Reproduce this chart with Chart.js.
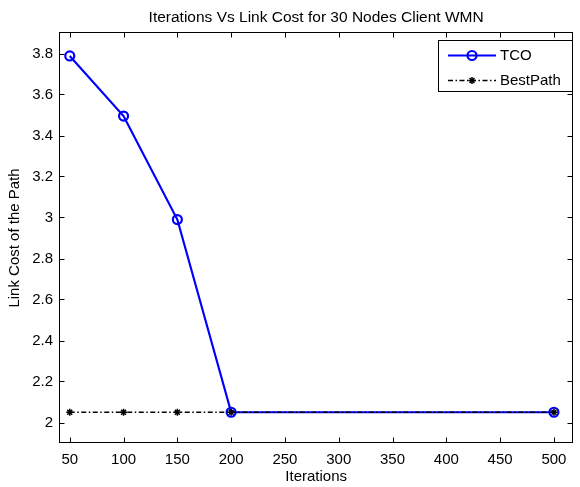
<!DOCTYPE html>
<html><head><meta charset="utf-8">
<script src="https://cdn.jsdelivr.net/npm/chart.js@4.4.1/dist/chart.umd.min.js"></script>
<style>html,body{margin:0;padding:0;background:#fff;}#wrap{width:580px;height:487px;}</style>
</head><body><div id="wrap"><canvas id="c" width="580" height="487"></canvas></div>
<script>
const titleText = 'Iterations Vs Link Cost for 30 Nodes Client WMN';
const xLabel = 'Iterations';
const yLabel = 'Link Cost of the Path';
const seriesNames = ['TCO', 'BestPath'];
const iterations = [50, 100, 150, 200, 500];
const tcoCost = [3.788, 3.495, 2.99, 2.05, 2.05];
const bestPathCost = [2.05, 2.05, 2.05, 2.05, 2.05];
const xTicks = [50, 100, 150, 200, 250, 300, 350, 400, 450, 500];
const yTicks = [2, 2.2, 2.4, 2.6, 2.8, 3, 3.2, 3.4, 3.6, 3.8];

const FONT = 'Arial, "Liberation Sans", Helvetica, sans-serif';
const toPts = (ys) => iterations.map((x, i) => ({x: x, y: ys[i]}));

const framePlugin = {
  id: 'frame',
  beforeDatasetsDraw(chart) {
    const ctx = chart.ctx, a = chart.chartArea;
    const xs = chart.scales.x, ys = chart.scales.y;
    const L = Math.round(a.left) + 0.5, R = Math.round(a.right) - 0.5;
    const T = Math.round(a.top) - 0.5, B = Math.round(a.bottom) - 0.5;
    ctx.save();
    ctx.strokeStyle = '#000'; ctx.lineWidth = 1;
    ctx.strokeRect(L, T, R - L, B - T);
    ctx.beginPath();
    const tl = 5;
    xTicks.forEach(v => {
      const px = Math.round(xs.getPixelForValue(v)) + 0.5;
      ctx.moveTo(px, B); ctx.lineTo(px, B - tl);
      ctx.moveTo(px, T); ctx.lineTo(px, T + tl);
    });
    yTicks.forEach(v => {
      const py = Math.round(ys.getPixelForValue(v)) + 0.5;
      ctx.moveTo(L, py); ctx.lineTo(L + tl, py);
      ctx.moveTo(R, py); ctx.lineTo(R - tl, py);
    });
    ctx.stroke();
    ctx.restore();
  },
  afterDraw(chart) {
    const ctx = chart.ctx, a = chart.chartArea;
    ctx.save();
    ctx.fillStyle = '#000';
    ctx.font = '15.5px ' + FONT;
    ctx.textAlign = 'center'; ctx.textBaseline = 'alphabetic';
    ctx.fillText(titleText, (a.left + a.right) / 2, 21.5);
    const bx = 438.5, by = 40.5, bw = 134, bh = 51;
    ctx.fillStyle = '#fff';
    ctx.fillRect(bx, by, bw, bh);
    ctx.strokeStyle = '#000'; ctx.lineWidth = 1;
    ctx.strokeRect(bx, by, bw, bh);
    const ds = chart.data.datasets;
    const rows = [55.5, 80.5];
    ds.forEach((d) => {
      const y = rows[d.legendRow];
      ctx.save();
      ctx.strokeStyle = d.borderColor; ctx.lineWidth = d.borderWidth;
      ctx.setLineDash(d.borderDash || []);
      ctx.beginPath(); ctx.moveTo(448, y); ctx.lineTo(496, y); ctx.stroke();
      ctx.setLineDash([]);
      ctx.lineWidth = d.pointBorderWidth;
      ctx.strokeStyle = d.pointBorderColor;
      const cx = 472, r = d.pointRadius;
      ctx.beginPath();
      if (d.pointStyle === 'circle') {
        ctx.arc(cx, y, r, 0, Math.PI * 2);
      } else {
        ctx.moveTo(cx - r, y); ctx.lineTo(cx + r, y);
        ctx.moveTo(cx, y - r); ctx.lineTo(cx, y + r);
        const q = r * Math.SQRT1_2;
        ctx.moveTo(cx - q, y - q); ctx.lineTo(cx + q, y + q);
        ctx.moveTo(cx - q, y + q); ctx.lineTo(cx + q, y - q);
      }
      ctx.stroke();
      ctx.fillStyle = '#000';
      ctx.font = '15px ' + FONT;
      ctx.textAlign = 'left'; ctx.textBaseline = 'middle';
      ctx.fillText(d.label, 500, y);
      ctx.restore();
    });
    ctx.restore();
  }
};

new Chart(document.getElementById('c'), {
  type: 'line',
  data: {
    datasets: [
      {
        label: seriesNames[1], legendRow: 1, order: 1,
        data: toPts(bestPathCost),
        borderColor: '#000', borderWidth: 1.5, borderDash: [5, 2.5, 1.5, 2.5],
        pointStyle: 'star', pointRadius: 3.5, pointBorderWidth: 1.5,
        pointBorderColor: '#000', pointBackgroundColor: 'rgba(0,0,0,0)',
        tension: 0, fill: false
      },
      {
        label: seriesNames[0], legendRow: 0, order: 2,
        data: toPts(tcoCost),
        borderColor: '#0000ff', borderWidth: 2.2,
        pointStyle: 'circle', pointRadius: 4.5, pointBorderWidth: 2.2,
        pointBorderColor: '#0000ff', pointBackgroundColor: 'rgba(0,0,0,0)',
        tension: 0, fill: false
      }
    ]
  },
  options: {
    responsive: false, animation: false, devicePixelRatio: 1,
    layout: {padding: {left: 0, right: 3, top: 33, bottom: 0}},
    plugins: {legend: {display: false}, title: {display: false}, tooltip: {enabled: false}},
    scales: {
      x: {
        type: 'linear', min: 40, max: 518,
        afterBuildTicks: s => { s.ticks = xTicks.map(v => ({value: v})); },
        afterFit: s => { s.height = 44; },
        grid: {display: false, drawTicks: false}, border: {display: false},
        ticks: {color: '#000', font: {family: FONT, size: 15}, padding: 8, maxRotation: 0, autoSkip: false,
          callback: v => String(v)},
        title: {display: true, text: xLabel, color: '#000', font: {family: FONT, size: 15}, padding: {top: 0, bottom: 1}}
      },
      y: {
        type: 'linear', min: 1.9, max: 3.9,
        afterBuildTicks: s => { s.ticks = yTicks.map(v => ({value: v})); },
        afterFit: s => { s.width = 59; },
        grid: {display: false, drawTicks: false}, border: {display: false},
        ticks: {color: '#000', font: {family: FONT, size: 15}, padding: 6, autoSkip: false,
          callback: v => String(v)},
        title: {display: true, text: yLabel, color: '#000', font: {family: FONT, size: 15}, padding: {top: 6, bottom: 0}}
      }
    }
  },
  plugins: [framePlugin]
});
</script>
</body></html>
